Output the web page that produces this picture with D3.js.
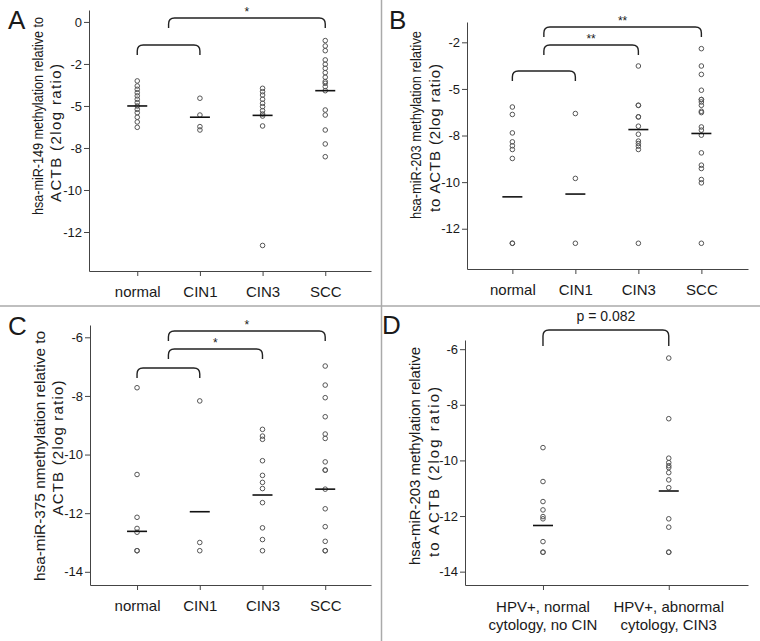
<!DOCTYPE html>
<html>
<head>
<meta charset="utf-8">
<script src="https://cdn.jsdelivr.net/npm/d3@7"></script>
<style>
  body { margin: 0; background: #fff; }
  svg text { font-family: "Liberation Sans", Arial, sans-serif; fill: #1a1a1a; }
  .axis path, .axis line { stroke: #444; }
</style>
</head>
<body>
<svg id="chart" width="760" height="641"></svg>
<script>
// categories
const groups = ["normal", "CIN1", "CIN3", "SCC"];
const hpvGroups = [["HPV+, normal", "cytology, no CIN"], ["HPV+, abnormal", "cytology, CIN3"]];

// tick values / labels (A and B use a 2.5 step, labels are rounded)
const ticksAB = [0, -2.5, -5, -7.5, -10, -12.5];
const tickLabelsA = ["0", "-2", "-5", "-8", "-10", "-12"];
const tickLabelsB = ["", "-2", "-5", "-8", "-10", "-12"];
const ticksCD = [-6, -8, -10, -12, -14];
const tickLabelsCD = ["-6", "-8", "-10", "-12", "-14"];

// A: hsa-miR-149
const mir149Values = [
  [-3.51, -3.81, -4.01, -4.21, -4.4, -4.6, -4.8, -5.0, -5.2, -5.4, -5.67, -5.95, -6.27],
  [-4.54, -5.54, -6.23, -6.43],
  [-3.95, -4.15, -4.35, -4.6, -4.84, -5.04, -5.28, -5.48, -5.6, -6.19, -13.3],
  [-1.11, -1.43, -1.71, -2.26, -2.52, -2.76, -3.02, -3.29, -3.55, -3.65, -3.85, -4.09, -5.24, -5.54, -6.43, -7.26, -8.02]
];
const mir149Medians = [-5.0, -5.67, -5.56, -4.09];

// B: hsa-miR-203
const mir203Values = [
  [-5.97, -6.37, -7.36, -7.84, -8.05, -8.25, -8.73, -13.28, -13.28],
  [-6.32, -9.8, -13.28],
  [-3.77, -5.88, -5.88, -6.5, -6.5, -7.0, -7.43, -7.8, -7.93, -8.07, -8.25, -13.28],
  [-2.84, -3.77, -4.22, -5.07, -5.57, -5.57, -5.7, -5.88, -6.2, -6.27, -7.04, -7.21, -7.48, -8.43, -9.09, -9.27, -9.86, -10.04, -13.28]
];
const mir203Medians = [-10.79, -10.64, -7.18, -7.39];

// C: hsa-miR-375
const mir375Values = [
  [-7.72, -10.68, -12.14, -12.52, -12.65, -13.28, -13.28],
  [-8.17, -13.0, -13.28],
  [-9.14, -9.37, -9.48, -10.21, -10.71, -10.95, -11.16, -11.64, -12.5, -12.9, -13.28],
  [-6.98, -7.63, -8.06, -8.71, -9.3, -9.45, -10.25, -10.53, -10.53, -11.18, -11.85, -12.46, -12.96, -13.28, -13.28]
];
const mir375Medians = [-12.62, -11.95, -11.38, -11.18];

// D: hsa-miR-203 in HPV+ women
const hpvValues = [
  [-9.54, -10.76, -11.48, -11.78, -12.02, -12.1, -12.92, -13.3, -13.3],
  [-6.32, -8.5, -9.92, -10.08, -10.19, -10.26, -10.44, -10.7, -10.98, -12.1, -12.4, -13.3, -13.3]
];
const hpvMedians = [-12.34, -11.1];

// significance brackets: [from group, to group, label]
const bracketsA = [[0, 1, ""], [0.5, 3, "*"]];
const bracketsB = [[0, 1, ""], [0.5, 2, "**"], [0.5, 3, "**"]];
const bracketsC = [[0, 1, ""], [0.5, 2, "*"], [0.5, 3, "*"]];
const bracketsD = [[0, 1, "p = 0.082"]];

const svg = d3.select("#chart");

// panel dividers
svg.append("line").attr("x1", 381.5).attr("x2", 381.5).attr("y1", 0).attr("y2", 641)
  .attr("stroke", "#aaa").attr("stroke-width", 1.5);
svg.append("line").attr("x1", 0).attr("x2", 760).attr("y1", 306).attr("y2", 306)
  .attr("stroke", "#aaa").attr("stroke-width", 1.5);

function drawPanel(p) {
  const g = svg.append("g");
  const n = p.values.length;

  const x = d3.scaleLinear().domain(p.xDomain).range([p.left, p.right]);
  const y = d3.scaleLinear().domain(p.yDomain).range([p.bottom, p.top]);

  // y axis
  const yAxis = d3.axisLeft(y)
    .tickValues(p.ticks)
    .tickFormat((d, i) => p.tickLabels[i])
    .tickSize(5).tickSizeOuter(0).tickPadding(2);
  g.append("g").attr("class", "axis")
    .attr("transform", `translate(${p.left},0)`)
    .call(yAxis)
    .call(s => s.selectAll("text").style("font-size", "13px"));

  // x axis
  const xAxis = d3.axisBottom(x)
    .tickValues(d3.range(n))
    .tickFormat(i => p.multiLine ? "" : p.groups[i])
    .tickSize(5).tickSizeOuter(0).tickPadding(10);
  const xg = g.append("g").attr("class", "axis")
    .attr("transform", `translate(0,${p.bottom})`)
    .call(xAxis);
  xg.selectAll("text").style("font-size", "15px");
  g.selectAll(".axis").attr("font-family", null);

  if (p.multiLine) {
    p.groups.forEach((lines, i) => {
      const t = g.append("text")
        .attr("x", x(i)).attr("y", p.bottom + 27)
        .attr("text-anchor", "middle").style("font-size", "15px");
      lines.forEach((l, k) => t.append("tspan").attr("x", x(i)).attr("dy", k ? 18 : 0).text(l));
    });
  }

  // y label (two lines, rotated); first line squeezed, second line spaced out
  p.yLabel.forEach((l, k) => {
    const [bx, cy, len] = p.labelPos[k];
    g.append("text")
      .attr("transform", `translate(${bx},${cy}) rotate(-90)`)
      .attr("text-anchor", "middle")
      .attr("textLength", len)
      .attr("lengthAdjust", k ? "spacing" : "spacingAndGlyphs")
      .style("font-size", "15px")
      .text(l);
  });

  // panel letter
  g.append("text").attr("x", p.letterX).attr("y", p.letterY)
    .style("font-size", "26px").text(p.letter);

  // points
  p.values.forEach((vals, i) => {
    g.selectAll(null)
      .data(vals)
      .enter()
      .append("circle")
      .attr("cx", x(i))
      .attr("cy", d => y(d))
      .attr("r", 2.3)
      .attr("fill", "none")
      .attr("stroke", "#555")
      .attr("stroke-width", 1);
  });

  // medians
  g.selectAll(null)
    .data(p.medians)
    .enter()
    .append("line")
    .attr("x1", (d, i) => x(i) - 10)
    .attr("x2", (d, i) => x(i) + 10)
    .attr("y1", d => y(d))
    .attr("y2", d => y(d))
    .attr("stroke", "#111")
    .attr("stroke-width", 1.6);

  // brackets
  p.brackets.forEach((b, k) => {
    const x1 = x(b[0]), x2 = x(b[1]), top = p.bracketY[k], drop = p.bracketDrop, r = 6;
    const path = d3.path();
    path.moveTo(x1, top + drop);
    path.lineTo(x1, top + r);
    path.quadraticCurveTo(x1, top, x1 + r, top);
    path.lineTo(x2 - r, top);
    path.quadraticCurveTo(x2, top, x2, top + r);
    path.lineTo(x2, top + drop);
    g.append("path").attr("d", path.toString())
      .attr("fill", "none").attr("stroke", "#222").attr("stroke-width", 1.4);
    if (b[2]) {
      const isP = b[2].startsWith("p");
      g.append("text")
        .attr("x", (x1 + x2) / 2)
        .attr("y", top - (isP ? 9 : 2))
        .attr("text-anchor", "middle")
        .style("font-size", isP ? "14px" : "12px")
        .text(b[2]);
    }
  });
}

drawPanel({
  letter: "A", letterX: 8, letterY: 29,
  left: 89, right: 371, top: 10, bottom: 271,
  xDomain: [-0.77, 3.73], yDomain: [-14.82, 0.71],
  ticks: ticksAB, tickLabels: tickLabelsA,
  groups: groups, values: mir149Values, medians: mir149Medians,
  yLabel: ["hsa-miR-149 methylation relative to", "ACTB (2log ratio)"],
  labelPos: [[43, 116, 198], [61, 133, 138]],
  brackets: bracketsA, bracketY: [45, 18], bracketDrop: 10
});

drawPanel({
  letter: "B", letterX: 389, letterY: 29,
  left: 467, right: 748, top: 22, bottom: 269,
  xDomain: [-0.72, 3.74], yDomain: [-14.66, -1.41],
  ticks: ticksAB.slice(1), tickLabels: tickLabelsB.slice(1),
  groups: groups, values: mir203Values, medians: mir203Medians,
  yLabel: ["hsa-miR-203 methylation relative", "to ACTB (2log ratio)"],
  labelPos: [[421, 125, 188], [440, 138, 148]],
  brackets: bracketsB, bracketY: [71, 45, 27], bracketDrop: 10
});

drawPanel({
  letter: "C", letterX: 8, letterY: 335,
  left: 90, right: 371, top: 325, bottom: 585,
  xDomain: [-0.75, 3.73], yDomain: [-14.45, -5.58],
  ticks: ticksCD, tickLabels: tickLabelsCD,
  groups: groups, values: mir375Values, medians: mir375Medians,
  yLabel: ["hsa-miR-375 nmethylation relative to", "ACTB (2log ratio)"],
  labelPos: [[45, 456, 250], [63, 448, 135]],
  brackets: bracketsC, bracketY: [368, 349, 331], bracketDrop: 10
});

drawPanel({
  letter: "D", letterX: 382, letterY: 334,
  left: 465, right: 748, top: 340, bottom: 585,
  xDomain: [-0.62, 1.63], yDomain: [-14.48, -5.67],
  ticks: ticksCD, tickLabels: tickLabelsCD,
  groups: hpvGroups, values: hpvValues, medians: hpvMedians, multiLine: true,
  yLabel: ["hsa-miR-203 methylation relative", "to ACTB (2log ratio)"],
  labelPos: [[420, 456, 218], [439, 472, 170]],
  brackets: bracketsD, bracketY: [330], bracketDrop: 16
});
</script>
</body>
</html>
